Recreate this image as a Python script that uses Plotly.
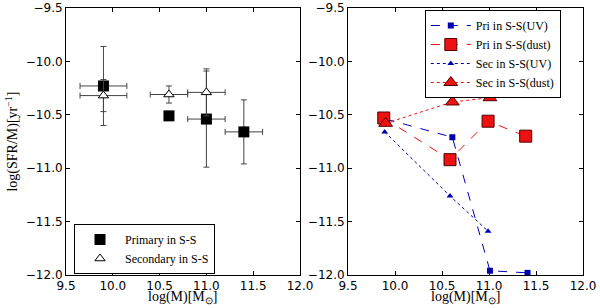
import plotly.graph_objects as go

# ---- Left panel data ----
pri_x = [9.9, 10.6, 11.0, 11.4]
pri_y = [-10.23, -10.51, -10.54, -10.66]
pri_xerr = [0.25, 0.0, 0.2, 0.2]
pri_yerr = [0.37, 0.0, 0.45, 0.30]

sec_x = [9.9, 10.6, 11.0]
sec_y = [-10.32, -10.31, -10.29]
sec_xerr = [0.25, 0.2, 0.2]
sec_yerr = [0.15, 0.08, 0.22]

# ---- Right panel data ----
pri_uv_x = [9.9, 10.61, 11.01, 11.41]
pri_uv_y = [-10.54, -10.71, -11.96, -11.98]
pri_dust_x = [9.88, 10.585, 10.99, 11.39]
pri_dust_y = [-10.53, -10.92, -10.56, -10.70]
sec_uv_x = [9.89, 10.585, 10.99]
sec_uv_y = [-10.66, -11.26, -11.59]
sec_dust_x = [9.9, 10.61, 11.01]
sec_dust_y = [-10.58, -10.38, -10.34]

x_ticks = [9.5, 10.0, 10.5, 11.0, 11.5, 12.0]
y_ticks = [-12.0, -11.5, -11.0, -10.5, -10.0, -9.5]

SERIF = "Liberation Serif"
SANS = "DejaVu Sans"
BLUE = "#0000b0"
RED = "#ee1111"

fig = go.Figure()

err_style = dict(color="#444444", thickness=1, width=3)

fig.add_trace(go.Scatter(
    x=pri_x, y=pri_y, mode="markers", name="Primary in S-S",
    marker=dict(symbol="square", size=11, color="black"),
    error_x=dict(type="data", array=pri_xerr, **err_style),
    error_y=dict(type="data", array=pri_yerr, **err_style),
    xaxis="x", yaxis="y", legend="legend"))
fig.add_trace(go.Scatter(
    x=sec_x, y=sec_y, mode="markers", name="Secondary in S-S",
    marker=dict(symbol="triangle-up", size=9, color="white",
                line=dict(color="black", width=1)),
    error_x=dict(type="data", array=sec_xerr, **err_style),
    error_y=dict(type="data", array=sec_yerr, **err_style),
    xaxis="x", yaxis="y", legend="legend"))

fig.add_trace(go.Scatter(
    x=pri_uv_x, y=pri_uv_y, mode="lines+markers", name="Pri in S-S(UV)",
    line=dict(color=BLUE, dash="dash", width=1),
    marker=dict(symbol="square", size=6, color=BLUE),
    xaxis="x2", yaxis="y2", legend="legend2"))
fig.add_trace(go.Scatter(
    x=pri_dust_x, y=pri_dust_y, mode="lines+markers", name="Pri in S-S(dust)",
    line=dict(color=RED, dash="dash", width=1),
    marker=dict(symbol="square", size=12, color=RED,
                line=dict(color="#550000", width=1)),
    xaxis="x2", yaxis="y2", legend="legend2"))
fig.add_trace(go.Scatter(
    x=sec_uv_x, y=sec_uv_y, mode="lines+markers", name="Sec in S-S(UV)",
    line=dict(color=BLUE, dash="dot", width=1),
    marker=dict(symbol="triangle-up", size=6, color=BLUE),
    xaxis="x2", yaxis="y2", legend="legend2"))
fig.add_trace(go.Scatter(
    x=sec_dust_x, y=sec_dust_y, mode="lines+markers", name="Sec in S-S(dust)",
    line=dict(color=RED, dash="dot", width=1),
    marker=dict(symbol="triangle-up", size=12, color=RED,
                line=dict(color="#550000", width=1)),
    xaxis="x2", yaxis="y2", legend="legend2"))

ax_common = dict(showline=True, mirror="ticks", linecolor="black", linewidth=1,
                 ticks="inside", ticklen=4, tickcolor="black", showgrid=False,
                 zeroline=False, automargin=False,
                 tickfont=dict(family=SANS, size=12, color="black"))

title_font = dict(family=SERIF, size=14, color="black")

# plot area: x 66..583 px, y 8..275 px
fig.update_layout(
    width=600, height=308,
    margin=dict(l=66, r=17, t=8, b=33, autoexpand=False),
    paper_bgcolor="white", plot_bgcolor="white",
    showlegend=True,
    xaxis=dict(domain=[0.0, 0.4526], range=[9.5, 12.0], tickvals=x_ticks,
               tickformat=".1f", anchor="y", **ax_common),
    yaxis=dict(domain=[0.0, 1.0], range=[-12.0, -9.5], tickvals=y_ticks,
               tickformat=".1f", anchor="x", **ax_common),
    xaxis2=dict(domain=[0.5455, 1.0], range=[9.5, 12.0], tickvals=x_ticks,
                tickformat=".1f", anchor="y2", **ax_common),
    yaxis2=dict(domain=[0.0, 1.0], range=[-12.0, -9.5], tickvals=y_ticks,
                tickformat=".1f", anchor="x2", **ax_common),
    legend=dict(x=0.0155, y=0.191, xanchor="left", yanchor="top",
                bordercolor="black", borderwidth=1, bgcolor="white",
                itemwidth=40,
                font=dict(family=SERIF, size=12, color="black"), tracegroupgap=0),
    legend2=dict(x=0.694, y=0.9925, xanchor="left", yanchor="top",
                 bordercolor="black", borderwidth=1, bgcolor="white",
                 itemwidth=40,
                 font=dict(family=SERIF, size=12, color="black"), tracegroupgap=0),
    annotations=[
        dict(text="log(M)[M<sub>⊙</sub>]", xref="paper", yref="paper",
             x=0.2263, y=-0.1236, xanchor="center", yanchor="bottom",
             showarrow=False, font=title_font),
        dict(text="log(M)[M<sub>⊙</sub>]", xref="paper", yref="paper",
             x=0.7718, y=-0.1236, xanchor="center", yanchor="bottom",
             showarrow=False, font=title_font),
        dict(text="log(SFR/M)[yr<sup>−1</sup>]", xref="paper", yref="paper",
             x=-0.1044, y=0.5, xanchor="center", yanchor="middle", textangle=-90,
             showarrow=False, font=title_font),
    ],
)

fig.write_html("out.html", config={"displayModeBar": False},
               post_script="document.body.style.margin='0';document.body.style.padding='0';")
